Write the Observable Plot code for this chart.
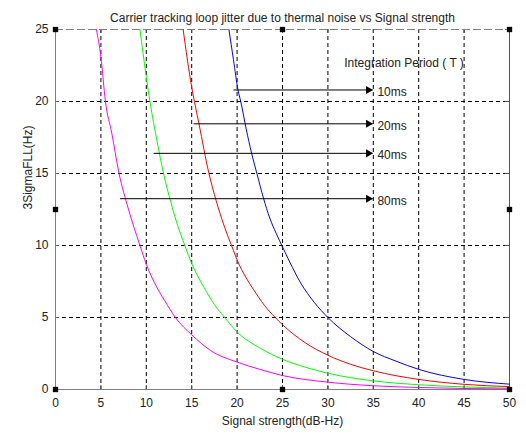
<!DOCTYPE html>
<html>
<head>
<meta charset="utf-8">
<script src="https://cdn.jsdelivr.net/npm/d3@7"></script>
<script src="https://cdn.jsdelivr.net/npm/@observablehq/plot@0.6"></script>
<style>
  html, body { margin: 0; padding: 0; background: #fff; }
  #chart svg { display: block; }
</style>
</head>
<body>
<div id="chart"></div>
<script>
// Signal strength (dB-Hz) and 3-sigma FLL jitter (Hz)
const x10ms = [19.1, 19.6, 20.1, 20.4, 21, 21.6, 22.2, 22.9, 23.6, 24.3, 25, 25.8, 27, 28.5, 30, 32.5, 35, 37.5, 40, 45, 50];
const y10ms = [25, 22.9, 20.8, 20, 18.1, 16.4, 14.95, 13.3, 11.9, 10.85, 9.9, 8.85, 7.4, 6.05, 5.0, 3.67, 2.64, 1.97, 1.4, 0.7, 0.37];

const x20ms = [14.06, 15, 15.3, 15.8, 16.9, 17.7, 18.5, 19.6, 20, 21, 21.8, 23, 24.2, 25, 27.5, 30, 32.5, 35, 40, 45, 50];
const y20ms = [25, 21.0, 20, 18.45, 15, 13.1, 11.5, 9.65, 9.0, 7.75, 6.95, 5.85, 5, 4.5, 3.25, 2.38, 1.75, 1.3, 0.7, 0.36, 0.2];

const x40ms = [9.3, 10, 10.4, 11.2, 11.9, 12.7, 13.3, 14.3, 15, 16.3, 17.5, 18.7, 20, 22.6, 25, 27.5, 30, 35, 40, 45, 50];
const y40ms = [25, 21.7, 20, 17.2, 15, 13.0, 11.7, 9.9, 8.75, 7.15, 5.9, 4.95, 4.0, 2.85, 2.1, 1.55, 1.13, 0.6, 0.33, 0.18, 0.1];

const x80ms = [4.5, 5, 5.5, 6.2, 7, 8, 9.3, 10, 11.2, 12, 13.2, 15, 17.1, 20, 22.5, 25, 30, 35, 40, 45, 50];
const y80ms = [25, 23.1, 20, 17.8, 15, 12.6, 10, 8.7, 7.05, 6.2, 5, 3.8, 2.7, 1.9, 1.4, 0.97, 0.51, 0.26, 0.14, 0.07, 0.04];

const seriesNames = ["10ms", "20ms", "40ms", "80ms"];
const seriesColors = ["#0000ff", "#ff0000", "#00ff00", "#ff00ff"];

// annotation arrows
const arrowLabels = ["10ms", "20ms", "40ms", "80ms"];
const arrowY = [20.8, 18.45, 16.4, 13.25];
const arrowStart = [19.6, 15.2, 10.8, 7.1];
const arrowEnd = [34.9, 34.9, 34.9, 34.9];

const xTicks = [0, 5, 10, 15, 20, 25, 30, 35, 40, 45, 50];
const yTicks = [0, 5, 10, 15, 20, 25];

// selection handles
const handleX = [0, 25, 50, 0, 50, 0, 25, 50];
const handleY = [25, 25, 25, 12.5, 12.5, 0, 0, 0];

const xs = [x10ms, x20ms, x40ms, x80ms];
const ys = [y10ms, y20ms, y40ms, y80ms];
const lineData = [];
seriesNames.forEach((name, i) => {
  xs[i].forEach((x, j) => lineData.push({series: name, x, y: ys[i][j]}));
});
const arrows = arrowLabels.map((label, i) => ({label, y: arrowY[i], x1: arrowStart[i], x2: arrowEnd[i]}));
const handles = handleX.map((x, i) => ({x, y: handleY[i]}));

const font = "Arial, 'Liberation Sans', Helvetica, sans-serif";
const textColor = "#222";
const W = 526, H = 434, mL = 55, mR = 17, mT = 29, mB = 45;
const tickLen = 4;

const chart = Plot.plot({
  width: W,
  height: H,
  marginLeft: mL,
  marginRight: mR,
  marginTop: mT,
  marginBottom: mB,
  style: {fontFamily: font, fontSize: "12px", background: "#fff", color: textColor},
  x: {domain: [0, 50]},
  y: {domain: [0, 25]},
  color: {domain: seriesNames, range: seriesColors},
  marks: [
    // grid
    Plot.ruleX(xTicks.filter(d => d > 0 && d < 50), {stroke: "#000", strokeDasharray: "4,3", strokeWidth: 1}),
    Plot.ruleY(yTicks.filter(d => d > 0 && d < 25), {stroke: "#000", strokeDasharray: "4,3", strokeWidth: 1}),
    // inward ticks (bottom, top, left, right)
    Plot.ruleX(xTicks, {stroke: "#555", insetTop: H - mT - mB - tickLen}),
    Plot.ruleX(xTicks, {stroke: "#555", insetBottom: H - mT - mB - tickLen}),
    Plot.ruleY(yTicks, {stroke: "#555", insetRight: W - mL - mR - tickLen}),
    Plot.ruleY(yTicks, {stroke: "#555", insetLeft: W - mL - mR - tickLen}),
    // frame
    Plot.ruleY([25], {stroke: "#7f7f7f", strokeDasharray: "8,3", strokeWidth: 1}),
    Plot.ruleX([0], {stroke: "#7f7f7f", strokeWidth: 1}),
    Plot.ruleX([50], {stroke: "#555", strokeWidth: 1}),
    Plot.ruleY([0], {stroke: "#7f7f7f", strokeWidth: 1}),
    // curves
    Plot.line(lineData, {x: "x", y: "y", z: "series", stroke: "series", strokeWidth: 1, curve: "monotone-x"}),
    // arrows
    Plot.link(arrows, {x1: "x1", x2: "x2", y1: "y", y2: "y", stroke: "#000", strokeWidth: 1}),
    Plot.dot(arrows, {x: "x2", y: "y", symbol: "triangle", rotate: 90, r: 3, fill: "#000", stroke: null, dx: -4}),
    Plot.text(arrows, {x: "x2", y: "y", text: "label", textAnchor: "start", dx: 5, dy: 2, fill: textColor, fontSize: 12}),
    Plot.text(["Integration Period ( T )"], {x: 31.8, y: 22.66, text: d => d, textAnchor: "start", fill: textColor, fontSize: 12}),
    // handles
    Plot.dot(handles, {x: "x", y: "y", symbol: "square", r: 3, fill: "#000", stroke: null}),
    // axes
    Plot.axisX({ticks: xTicks, tickSize: 0, tickPadding: 9, tickFormat: d => String(d), fontSize: 12, fill: textColor, label: null}),
    Plot.axisY({ticks: yTicks, tickSize: 0, tickPadding: 7, tickFormat: d => String(d), fontSize: 12, fill: textColor, label: null}),
    // labels
    Plot.text(["Carrier tracking loop jitter due to thermal noise vs Signal strength"], {frameAnchor: "top", text: d => d, dy: -16, fill: textColor, fontSize: 12}),
    Plot.text(["Signal strength(dB-Hz)"], {frameAnchor: "bottom", text: d => d, dy: 35, fill: textColor, fontSize: 12}),
    Plot.text(["3SigmaFLL(Hz)"], {frameAnchor: "left", text: d => d, rotate: -90, dx: -27, fill: textColor, fontSize: 12})
  ]
});
document.getElementById("chart").appendChild(chart);
</script>
</body>
</html>
